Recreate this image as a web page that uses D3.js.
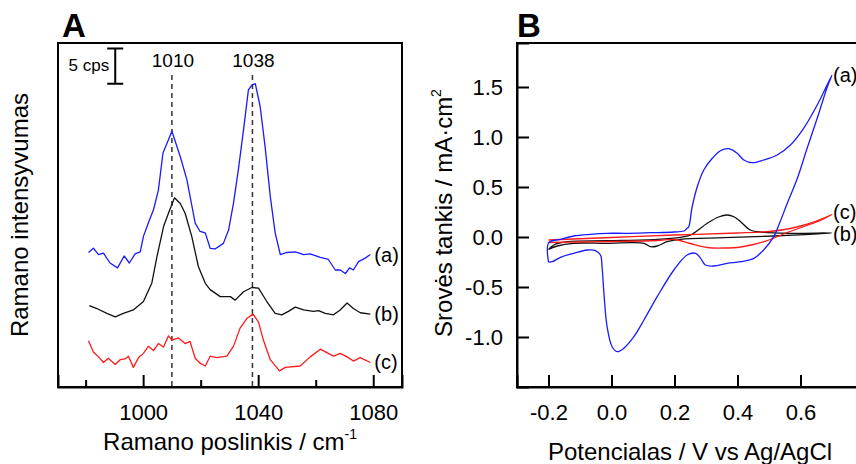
<!DOCTYPE html>
<html>
<head>
<meta charset="utf-8">
<script src="https://cdn.jsdelivr.net/npm/d3@7.9.0/dist/d3.min.js"></script>
<style>
  body { margin: 0; background: #fff; }
  svg { display: block; font-family: Arial, "Liberation Sans", sans-serif; }
</style>
</head>
<body>
<svg id="chart" width="856" height="464"></svg>
<script>
// ---- Panel A: Raman spectra (shift cm-1, intensity cps) ----
const ramanA = [[981.0,19.2],[982.7,19.8],[984.5,18.9],[986.2,19.1],[988.5,17.7],[991.1,17.0],[993.4,18.7],[995.2,17.7],[997.2,19.0],[999.0,19.3],[1000.1,21.5],[1001.8,23.4],[1003.6,25.3],[1005.3,28.1],[1006.9,33.4],[1008.8,35.3],[1010.0,36.5],[1012.9,32.9],[1015.2,29.6],[1018.1,23.4],[1019.8,22.2],[1021.6,22.0],[1023.3,19.8],[1025.0,19.7],[1027.9,20.5],[1029.7,22.4],[1031.4,26.2],[1033.1,31.0],[1034.9,36.7],[1036.6,42.4],[1037.8,43.1],[1039.0,43.3],[1040.7,40.0],[1042.4,34.3],[1044.2,27.2],[1045.9,22.0],[1047.7,18.9],[1050.0,19.2],[1052.9,19.3],[1055.8,18.9],[1058.1,19.0],[1061.6,18.5],[1064.4,18.2],[1066.8,16.7],[1068.5,16.7],[1070.3,16.2],[1071.8,17.0],[1073.1,16.7],[1074.9,17.9],[1077.2,18.4],[1079.0,18.9]];
const ramanB = [[981.3,11.6],[983.9,11.2],[987.4,10.5],[990.3,10.0],[993.1,10.5],[996.6,11.0],[1000.1,12.2],[1003.0,14.8],[1004.8,18.6],[1007.1,22.9],[1008.8,24.8],[1010.9,27.0],[1012.9,26.2],[1014.6,24.8],[1016.9,21.5],[1019.2,17.2],[1021.6,14.8],[1023.3,13.9],[1026.8,12.9],[1030.3,12.9],[1032.0,12.4],[1034.9,13.6],[1037.8,14.2],[1040.1,14.1],[1043.0,12.2],[1045.9,10.5],[1048.2,10.3],[1050.5,10.8],[1052.9,11.4],[1055.8,11.0],[1059.2,10.8],[1061.0,10.9],[1063.3,10.5],[1066.2,10.3],[1068.5,11.0],[1070.9,12.0],[1073.1,11.2],[1075.5,10.6],[1079.0,10.4]];
const ramanC = [[981.0,6.6],[982.7,5.0],[984.5,4.3],[986.2,3.5],[987.9,4.1],[990.3,3.2],[992.0,3.9],[993.7,4.0],[994.9,4.4],[996.6,2.8],[998.4,4.2],[1000.1,4.8],[1001.8,5.8],[1003.6,5.2],[1005.3,6.2],[1007.1,5.7],[1008.8,7.3],[1010.0,6.7],[1012.3,7.0],[1014.6,6.2],[1016.3,6.5],[1018.1,4.1],[1019.8,3.4],[1021.6,3.0],[1023.3,4.4],[1025.6,4.2],[1029.1,4.4],[1031.4,5.8],[1033.7,8.4],[1036.1,9.8],[1038.2,10.4],[1040.1,9.3],[1041.8,6.7],[1044.2,3.9],[1047.4,2.3],[1049.4,2.8],[1054.6,3.0],[1058.1,4.3],[1061.6,5.4],[1064.4,4.8],[1066.2,4.4],[1068.5,4.8],[1070.9,4.3],[1073.1,3.7],[1075.5,4.2],[1079.0,3.5]];
const ramanPeaks = [1010, 1038];
const ramanTicks = [1000, 1040, 1080];
const ramanMinor = [980, 1020, 1060];

// ---- Panel B: cyclic voltammograms (V vs Ag/AgCl, mA/cm2) ----
const cvA = [[-0.2,-0.25],[-0.199,-0.057],[-0.162,-0.023],[-0.12,0.01],[-0.067,0.027],[-0.014,0.037],[0.05,0.037],[0.124,0.043],[0.198,0.05],[0.23,0.06],[0.24,0.087],[0.245,0.1],[0.256,0.3],[0.272,0.5],[0.293,0.67],[0.32,0.787],[0.346,0.863],[0.372,0.883],[0.399,0.837],[0.42,0.77],[0.447,0.743],[0.483,0.77],[0.526,0.82],[0.568,0.92],[0.61,1.087],[0.653,1.32],[0.7,1.62],[0.685,1.5],[0.653,1.187],[0.621,0.887],[0.59,0.587],[0.558,0.337],[0.535,0.15],[0.515,0.003],[0.483,-0.13],[0.452,-0.213],[0.41,-0.247],[0.367,-0.263],[0.325,-0.29],[0.298,-0.28],[0.283,-0.213],[0.267,-0.163],[0.24,-0.18],[0.198,-0.33],[0.145,-0.597],[0.103,-0.83],[0.071,-0.997],[0.039,-1.113],[0.018,-1.147],[0.002,-1.097],[-0.014,-0.897],[-0.024,-0.563],[-0.03,-0.297],[-0.035,-0.18],[-0.051,-0.137],[-0.077,-0.13],[-0.12,-0.163],[-0.162,-0.203],[-0.188,-0.247],[-0.2,-0.25]];
const cvB = [[-0.2,-0.125],[-0.183,-0.08],[-0.141,-0.047],[-0.014,-0.037],[0.145,-0.023],[0.219,-0.003],[0.251,0.02],[0.304,0.137],[0.34,0.2],[0.367,0.22],[0.39,0.2],[0.41,0.153],[0.441,0.07],[0.483,0.047],[0.568,0.037],[0.7,0.04],[0.515,0.01],[0.357,-0.007],[0.219,-0.023],[0.177,-0.047],[0.145,-0.09],[0.124,-0.097],[0.103,-0.063],[-0.014,-0.063],[-0.12,-0.063],[-0.172,-0.09],[-0.2,-0.125]];
const cvC = [[-0.2,-0.03],[0.0,-0.005],[0.2,0.02],[0.4,0.04],[0.5,0.055],[0.55,0.075],[0.6,0.11],[0.65,0.16],[0.7,0.225],[0.65,0.15],[0.62,0.115],[0.58,0.07],[0.55,0.035],[0.5,-0.03],[0.45,-0.075],[0.41,-0.1],[0.357,-0.11],[0.304,-0.105],[0.25,-0.065],[0.2,-0.025],[0.145,-0.035],[0.0,-0.045],[-0.1,-0.05],[-0.2,-0.055]];
const cvXTicks = [-0.2, 0.0, 0.2, 0.4, 0.6];
const cvYTicks = [-1.0, -0.5, 0.0, 0.5, 1.0, 1.5];

const colors = { a: '#1a1aff', b: '#111111', c: '#ff1a1a' };

// hyphen minus like the original figure
const fmt1 = d => d3.format('.1f')(d).replace('\u2212', '-');

const svg = d3.select('#chart');

// ================= Panel A =================
const xA = d3.scaleLinear().domain([970.4, 1090]).range([58, 402]);
const yA = d3.scaleLinear().domain([0, 49.1]).range([387, 43]);

const gA = svg.append('g');

// dashed peak markers
gA.selectAll('line.peak')
  .data(ramanPeaks)
  .join('line')
  .attr('class', 'peak')
  .attr('x1', d => xA(d)).attr('x2', d => xA(d))
  .attr('y1', 75).attr('y2', 387)
  .attr('stroke', '#333').attr('stroke-width', 1.5)
  .attr('stroke-dasharray', '5,4');

gA.selectAll('text.peak')
  .data(ramanPeaks)
  .join('text')
  .attr('class', 'peak')
  .attr('x', d => xA(d) + 1).attr('y', 67)
  .attr('text-anchor', 'middle')
  .attr('font-size', 19)
  .text(d => d);

const lineA = d3.line().x(d => xA(d[0])).y(d => yA(d[1]));
[[ramanA, colors.a], [ramanB, colors.b], [ramanC, colors.c]].forEach(([data, col]) => {
  gA.append('path')
    .attr('d', lineA(data))
    .attr('fill', 'none')
    .attr('stroke', col)
    .attr('stroke-width', 1.3)
    .attr('stroke-linejoin', 'round');
});

// series labels
[['(a)', ramanA], ['(b)', ramanB], ['(c)', ramanC]].forEach(([lab, data]) => {
  const last = data[data.length - 1];
  gA.append('text')
    .attr('x', xA(last[0]) + 4)
    .attr('y', yA(last[1]) + 7)
    .attr('font-size', 20)
    .text(lab);
});

// 5 cps scale bar
const barX = xA(990.3);
gA.append('path')
  .attr('d', `M${barX - 8},${yA(48.3)}H${barX + 8}M${barX},${yA(48.3)}V${yA(43.3)}M${barX - 8},${yA(43.3)}H${barX + 8}`)
  .attr('stroke', '#000').attr('stroke-width', 2).attr('fill', 'none');
gA.append('text')
  .attr('x', barX - 6).attr('y', 71)
  .attr('text-anchor', 'end')
  .attr('font-size', 17)
  .text('5 cps');

// bottom axis, ticks inward
gA.append('g').attr('transform', 'translate(0,387)')
  .call(d3.axisBottom(xA).tickValues(ramanTicks).tickSize(-12).tickPadding(17).tickFormat(d3.format('d')));
gA.append('g').attr('transform', 'translate(0,387)')
  .call(d3.axisBottom(xA).tickValues(ramanMinor).tickSize(-7).tickFormat(''))
  .call(g => g.select('.domain').remove());

// frame
gA.append('rect')
  .attr('x', 58).attr('y', 43).attr('width', 344).attr('height', 344)
  .attr('fill', 'none').attr('stroke', '#000').attr('stroke-width', 2);

gA.append('text').attr('x', 62).attr('y', 37)
  .attr('font-size', 33).attr('font-weight', 'bold').text('A');

gA.append('text')
  .attr('x', 230).attr('y', 450)
  .attr('text-anchor', 'middle')
  .attr('font-size', 24)
  .html('Ramano poslinkis / cm<tspan font-size="14" dy="-11">-1</tspan>');

gA.append('text')
  .attr('transform', 'translate(28,215) rotate(-90)')
  .attr('text-anchor', 'middle')
  .attr('font-size', 24)
  .text('Ramano intensyvumas');

// ================= Panel B =================
const xB = d3.scaleLinear().domain([-0.3, 0.8]).range([517, 863.5]);
const yB = d3.scaleLinear().domain([-1.5, 1.94]).range([387, 43]);

const gB = svg.append('g');

const lineB = d3.line().x(d => xB(d[0])).y(d => yB(d[1])).curve(d3.curveCatmullRom.alpha(0.5));
[[cvB, colors.b], [cvC, colors.c], [cvA, colors.a]].forEach(([data, col]) => {
  gB.append('path')
    .attr('d', lineB(data))
    .attr('fill', 'none')
    .attr('stroke', col)
    .attr('stroke-width', 1.3)
    .attr('stroke-linejoin', 'round');
});

// labels next to the positive vertex of each loop
[['(a)', cvA, 7], ['(b)', cvB, 8], ['(c)', cvC, 4]].forEach(([lab, data, dy]) => {
  const v = data.reduce((m, d) => d[0] > m[0] ? d : m);
  gB.append('text')
    .attr('x', xB(v[0]) + 1)
    .attr('y', yB(v[1]) + dy)
    .attr('font-size', 20)
    .text(lab);
});

gB.append('g').attr('transform', 'translate(0,387)')
  .call(d3.axisBottom(xB).tickValues(cvXTicks).tickSize(-12).tickPadding(17).tickFormat(fmt1));
gB.append('g').attr('transform', 'translate(517,0)')
  .call(d3.axisLeft(yB).tickValues(cvYTicks).tickSize(-12).tickPadding(14).tickFormat(fmt1));

gB.append('rect')
  .attr('x', 517).attr('y', 43).attr('width', 360).attr('height', 344)
  .attr('fill', 'none').attr('stroke', '#000').attr('stroke-width', 2);

gB.append('text').attr('x', 517).attr('y', 37)
  .attr('font-size', 33).attr('font-weight', 'bold').text('B');

gB.append('text')
  .attr('x', 690).attr('y', 460)
  .attr('text-anchor', 'middle')
  .attr('font-size', 24)
  .text('Potencialas / V vs Ag/AgCl');

gB.append('text')
  .attr('transform', 'translate(452,213) rotate(-90)')
  .attr('text-anchor', 'middle')
  .attr('font-size', 24)
  .html('Srovės tankis / mA·cm<tspan font-size="14" dy="-11">2</tspan>');

// shared axis styling
svg.selectAll('.tick text').attr('font-size', 22).attr('fill', '#000')
  .style('font-family', 'Arial, "Liberation Sans", sans-serif');
svg.selectAll('.tick line').attr('stroke', '#000').attr('stroke-width', 2);
svg.selectAll('.domain').attr('stroke', '#000').attr('stroke-width', 2);
</script>
</body>
</html>
